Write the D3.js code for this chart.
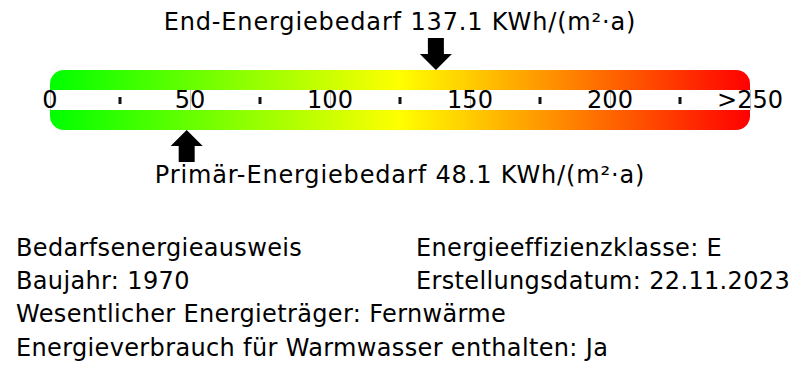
<!DOCTYPE html>
<html>
<head>
<meta charset="utf-8">
<script src="https://cdn.jsdelivr.net/npm/d3@7"></script>
<style>
  body { margin: 0; background: #fff; }
  svg text { font-family: "DejaVu Sans", sans-serif; fill: #000; }
</style>
</head>
<body>
<div class="box"></div>
<script>
// Scale data
const tickValues = [0, 50, 100, 150, 200, 250];
const tickLabels = ["0", "50", "100", "150", "200", ">250"];
const minorTicks = [25, 75, 125, 175, 225];

// Markers
const markerNames = ["End-Energiebedarf", "Primär-Energiebedarf"];
const markerValues = [137.1, 48.1];
const markerSides = ["top", "bottom"];
const unit = "KWh/(m²·a)";

// Info text, two columns
const infoLeft = [
    "Bedarfsenergieausweis",
    "Baujahr: 1970",
    "Wesentlicher Energieträger: Fernwärme",
    "Energieverbrauch für Warmwasser enthalten: Ja"
];
const infoRight = [
    "Energieeffizienzklasse: E",
    "Erstellungsdatum: 22.11.2023"
];

// Gradient colours
const gradColors = ["#00ff00", "#ffff00", "#ff0000"];

/////////////////////////////////////////////////////////////////

const w = 800;
const h = 380;

const svg = d3.select(".box")
                .append("svg")
                .attr("width", w)
                .attr("height", h);

const x = d3.scaleLinear()
            .domain([0, 250])
            .range([50, 750]);

const barTop = 70;
const barBottom = 130;
const stripTop = 90;
const stripBottom = 110;

// GRADIENT
const grad = svg.append("defs")
                .append("linearGradient")
                .attr("id", "grad")
                .attr("gradientUnits", "userSpaceOnUse")
                .attr("x1", x(0)).attr("x2", x(250))
                .attr("y1", 0).attr("y2", 0);

grad.selectAll("stop")
    .data(gradColors)
    .enter()
    .append("stop")
    .attr("offset", (d, i) => i / (gradColors.length - 1))
    .attr("stop-color", d => d);

// BAR
svg.append("rect")
    .attr("x", x(0))
    .attr("y", barTop)
    .attr("width", x(250) - x(0))
    .attr("height", barBottom - barTop)
    .attr("rx", 14)
    .attr("fill", "url(#grad)");

// white strip for the scale
svg.append("rect")
    .attr("x", 0)
    .attr("y", stripTop)
    .attr("width", w)
    .attr("height", stripBottom - stripTop)
    .attr("fill", "#fff");

// thin grey lines at the major ticks
svg.selectAll(".tickline")
    .data(tickValues)
    .enter()
    .append("line")
    .attr("class", "tickline")
    .attr("x1", d => Math.round(x(d)) + 0.5)
    .attr("x2", d => Math.round(x(d)) + 0.5)
    .attr("y1", stripTop)
    .attr("y2", stripBottom)
    .attr("stroke", "#c8c8c8")
    .attr("stroke-width", 1);

// minor tick dots
svg.selectAll(".minor")
    .data(minorTicks)
    .enter()
    .append("rect")
    .attr("class", "minor")
    .attr("x", d => x(d) - 1.5)
    .attr("y", 97)
    .attr("width", 3)
    .attr("height", 7)
    .attr("fill", "#111");

// tick labels
svg.selectAll(".ticklabel")
    .data(tickValues)
    .enter()
    .append("text")
    .attr("class", "ticklabel")
    .attr("x", d => x(d))
    .attr("y", 108)
    .attr("text-anchor", "middle")
    .style("font-size", "24px")
    .text((d, i) => tickLabels[i]);

///////////////////////////////////////////////////////////////

// MARKERS (arrows + labels)
const arrowDown = "M-8,0 H8 V16 H16 L0,32 L-16,16 H-8 Z";
const arrowUp = "M-8,32 H8 V16 H16 L0,0 L-16,16 H-8 Z";

markerValues.forEach((v, i) => {
    const cx = x(v) + 2;
    const top = markerSides[i] === "top";
    svg.append("path")
        .attr("d", top ? arrowDown : arrowUp)
        .attr("transform", "translate(" + cx + "," + (top ? barTop - 32 : barBottom) + ")")
        .attr("fill", "#000");

    svg.append("text")
        .attr("x", w / 2)
        .attr("y", top ? 30 : 183)
        .attr("text-anchor", "middle")
        .style("font-size", "24px")
        .style("letter-spacing", "0.85px")
        .text(markerNames[i] + " " + d3.format(".1f")(v) + " " + unit);
});

///////////////////////////////////////////////////////////////

// INFO TEXT
const lineY = [256, 289, 322, 356];

svg.selectAll(".infoLeft")
    .data(infoLeft)
    .enter()
    .append("text")
    .attr("class", "infoLeft")
    .attr("x", 16)
    .attr("y", (d, i) => lineY[i])
    .style("font-size", "24px")
    .style("letter-spacing", "0.35px")
    .text(d => d);

svg.selectAll(".infoRight")
    .data(infoRight)
    .enter()
    .append("text")
    .attr("class", "infoRight")
    .attr("x", 416)
    .attr("y", (d, i) => lineY[i])
    .style("font-size", "24px")
    .style("letter-spacing", "0.35px")
    .text(d => d);
</script>
</body>
</html>
